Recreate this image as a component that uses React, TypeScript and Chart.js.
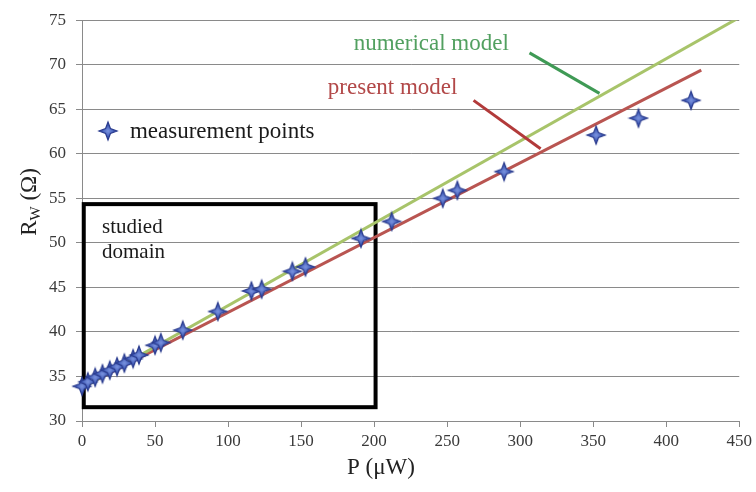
import React, { useEffect, useRef } from "react";
import { Chart, registerables } from "chart.js";
Chart.register(...registerables);

// ---- data ----
const measP = [0, 4, 9, 14, 19, 24, 29, 35, 39, 50, 54, 69, 93, 116, 123, 144, 153, 191, 212, 247, 257, 289, 352, 381, 417];
const measR = [33.9, 34.4, 34.9, 35.3, 35.7, 36.1, 36.5, 37.0, 37.4, 38.5, 38.8, 40.2, 42.3, 44.6, 44.8, 46.8, 47.3, 50.5, 52.4, 55.0, 55.9, 58.0, 62.1, 64.0, 66.0];
const numericalP = [0, 450];
const numericalR = [33.7, 75.3];
const presentP = [0, 424];
const presentR = [33.8, 69.4];
const xTicks = [0, 50, 100, 150, 200, 250, 300, 350, 400, 450];
const yTicks = [30, 35, 40, 45, 50, 55, 60, 65, 70, 75];
const studiedBox = { x0: 1.2, x1: 201, y0: 31.55, y1: 54.35 };

const SERIF = '"Liberation Serif", "Times New Roman", serif';

function makeStar(r: number): HTMLCanvasElement {
  const s = Math.ceil(r * 2 + 4);
  const c = document.createElement("canvas");
  c.width = s;
  c.height = s;
  const ctx = c.getContext("2d")!;
  const cx = s / 2, cy = s / 2;
  const inner = r * 0.38;
  ctx.beginPath();
  for (let i = 0; i < 8; i++) {
    const ang = -Math.PI / 2 + (i * Math.PI) / 4;
    const rad = i % 2 === 0 ? r : inner;
    const x = cx + rad * Math.cos(ang);
    const y = cy + rad * Math.sin(ang);
    if (i === 0) ctx.moveTo(x, y);
    else ctx.lineTo(x, y);
  }
  ctx.closePath();
  const g = ctx.createRadialGradient(cx, cy, 0, cx, cy, r * 0.7);
  g.addColorStop(0, "#7b94e0");
  g.addColorStop(1, "#3a55b2");
  ctx.fillStyle = g;
  ctx.fill();
  ctx.strokeStyle = "#2a3b8e";
  ctx.lineWidth = 1.2;
  ctx.stroke();
  return c;
}

export default function App() {
  const ref = useRef<HTMLCanvasElement | null>(null);
  useEffect(() => {
    document.body.style.margin = "0";
    const canvas = ref.current!;
    const star = makeStar(9);

    const overlay = {
      id: "overlay",
      beforeDatasetsDraw(chart: any) {
        const { ctx } = chart;
        const xs = chart.scales.x, ys = chart.scales.y;
        ctx.save();
        ctx.strokeStyle = "#000";
        ctx.lineWidth = 4;
        const l = xs.getPixelForValue(studiedBox.x0), r = xs.getPixelForValue(studiedBox.x1);
        const t = ys.getPixelForValue(studiedBox.y1), b = ys.getPixelForValue(studiedBox.y0);
        ctx.strokeRect(l, t, r - l, b - t);
        ctx.restore();
      },
      afterDraw(chart: any) {
        const { ctx } = chart;
        const xs = chart.scales.x, ys = chart.scales.y;
        const px = (v: number) => xs.getPixelForValue(v);
        const py = (v: number) => ys.getPixelForValue(v);
        ctx.save();
        // leader lines
        ctx.lineWidth = 3;
        ctx.strokeStyle = "#3f9a55";
        ctx.beginPath();
        ctx.moveTo(px(306.4), py(71.33));
        ctx.lineTo(px(354.3), py(66.78));
        ctx.stroke();
        ctx.strokeStyle = "#b23a3a";
        ctx.beginPath();
        ctx.moveTo(px(268.1), py(66.0));
        ctx.lineTo(px(314.0), py(60.56));
        ctx.stroke();
        // annotation texts
        ctx.textBaseline = "middle";
        ctx.textAlign = "left";
        ctx.font = `23px ${SERIF}`;
        ctx.fillStyle = "#52a060";
        ctx.fillText("numerical model", px(186), py(72.3));
        ctx.fillStyle = "#b24848";
        ctx.fillText("present model", px(168.3), py(67.4));
        // legend
        ctx.fillStyle = "#1a1a1a";
        ctx.drawImage(star, px(17.8) - star.width / 2, py(62.56) - star.height / 2);
        ctx.fillText("measurement points", px(32.8), py(62.5));
        // studied domain
        ctx.font = `21px ${SERIF}`;
        ctx.fillText("studied", px(13.7), py(51.7));
        ctx.fillText("domain", px(13.7), py(48.95));
        // x title
        ctx.textAlign = "center";
        ctx.font = `23px ${SERIF}`;
        ctx.fillStyle = "#222";
        ctx.fillText("P (\u03bcW)", 381, 468);
        // y title
        ctx.translate(28, 202);
        ctx.rotate(-Math.PI / 2);
        ctx.textAlign = "left";
        ctx.textBaseline = "alphabetic";
        ctx.font = `23px ${SERIF}`;
        const wR = ctx.measureText("R").width;
        const wRest = ctx.measureText(" (\u03a9)").width;
        ctx.font = `15px ${SERIF}`;
        const wW = ctx.measureText("W").width;
        const total = wR + wW + wRest;
        let x0 = -total / 2;
        ctx.font = `23px ${SERIF}`;
        ctx.fillText("R", x0, 8);
        x0 += wR;
        ctx.font = `15px ${SERIF}`;
        ctx.fillText("W", x0, 12);
        x0 += wW;
        ctx.font = `23px ${SERIF}`;
        ctx.fillText(" (\u03a9)", x0, 8);
        ctx.restore();
      },
    };

    const chart = new Chart(canvas, {
      type: "scatter",
      data: {
        datasets: [
          {
            label: "measurement points",
            data: measP.map((p, i) => ({ x: p, y: measR[i] })),
            pointStyle: star as any,
            pointRadius: 9,
            showLine: false,
            clip: false as any,
          },
          {
            label: "numerical model",
            data: numericalP.map((p, i) => ({ x: p, y: numericalR[i] })),
            showLine: true,
            borderColor: "#a8c46a",
            borderWidth: 3,
            pointRadius: 0,
          },
          {
            label: "present model",
            data: presentP.map((p, i) => ({ x: p, y: presentR[i] })),
            showLine: true,
            borderColor: "#b95551",
            borderWidth: 3,
            pointRadius: 0,
          },
        ],
      },
      options: {
        animation: false,
        responsive: false,
        devicePixelRatio: 1,
        layout: { padding: { left: 0, right: 16, top: 16, bottom: 0 } },
        plugins: { legend: { display: false }, tooltip: { enabled: false }, title: { display: false } },
        scales: {
          x: {
            type: "linear",
            min: 0,
            max: 450,
            afterBuildTicks: (s: any) => {
              s.ticks = xTicks.map((v) => ({ value: v }));
            },
            ticks: { font: { family: SERIF, size: 17 }, color: "#3a3a3a", padding: 4, maxRotation: 0, autoSkip: false },
            grid: { drawOnChartArea: false, drawTicks: true, tickLength: 6, color: "#8a8a8a" },
            border: { color: "#8a8a8a" },
            afterFit: (s: any) => {
              s.height = 71;
            },
          },
          y: {
            type: "linear",
            min: 30,
            max: 75,
            afterBuildTicks: (s: any) => {
              s.ticks = yTicks.map((v) => ({ value: v }));
            },
            ticks: { font: { family: SERIF, size: 17 }, color: "#3a3a3a", padding: 10, autoSkip: false },
            grid: { drawTicks: true, tickLength: 6, color: "#8a8a8a" },
            border: { color: "#8a8a8a" },
            afterFit: (s: any) => {
              s.width = 82;
            },
          },
        },
      },
      plugins: [overlay],
    });
    return () => chart.destroy();
  }, []);
  return (
    <div style={{ width: 756, height: 492, background: "#fff" }}>
      <canvas ref={ref} width={756} height={492} />
    </div>
  );
}
